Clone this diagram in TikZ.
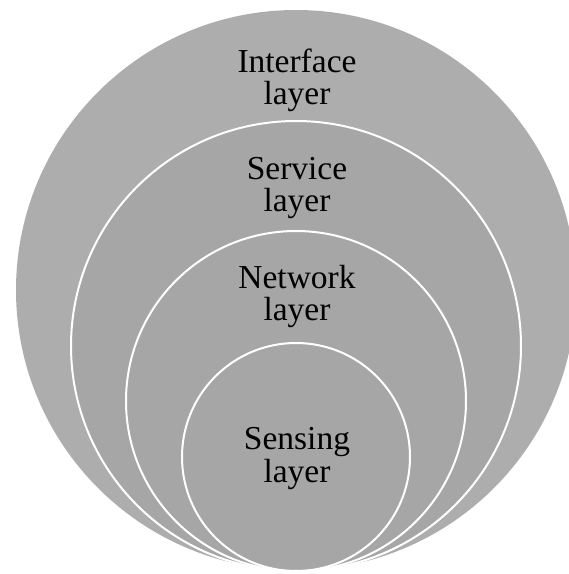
\documentclass[tikz,border=0pt]{standalone}
\usepackage{fontspec}
\setmainfont{Liberation Serif}
\definecolor{outergray}{HTML}{ADADAD}
\definecolor{innergray}{HTML}{A6A6A6}
\begin{document}
\begin{tikzpicture}[x=1pt,y=1pt,
  ring/.style={fill=innergray,draw=white,line width=2pt},
  lbl/.style={font=\fontsize{33.5}{32.5}\selectfont,align=center,anchor=base,inner sep=0pt,text=black}]
\useasboundingbox (0,0) rectangle (569,574);
\clip (0,0) rectangle (569,574);
\fill[outergray] (296,284) circle (280);
\draw[ring] (296,228) circle (225);
\draw[ring] (296,173) circle (170);
\draw[ring] (296,117) circle (114);
\node[lbl] (interface) at (297,469) {Interface\\layer};
\node[lbl] (service) at (297,362) {Service\\layer};
\node[lbl] (network) at (297,253) {Network\\layer};
\node[lbl] (sensing) at (297,91.5) {Sensing\\layer};
\end{tikzpicture}
\end{document}
